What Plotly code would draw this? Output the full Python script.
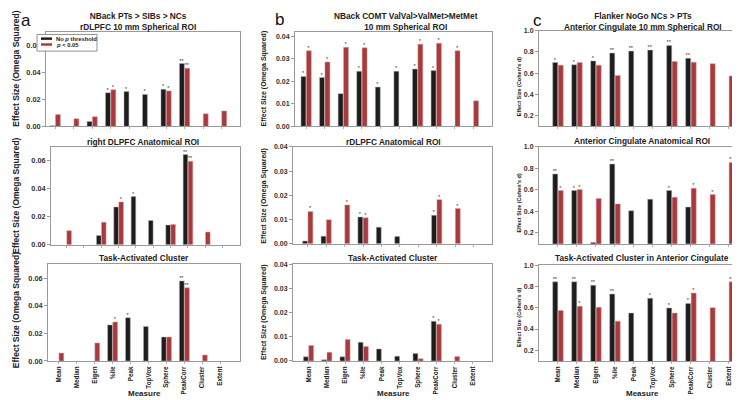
import plotly.graph_objects as go

W, H = 740, 400

cats = ["Mean", "Median", "Eigen", "%ile", "Peak", "TopVox", "Sphere", "PeakCorr", "Cluster", "Extent"]

# ---- column a : NBack PTs > SIBs > NCs ----
a1_black = [0.0005, None, 0.0036, 0.0248, 0.0257, 0.0236, 0.0274, 0.0464, None, None]
a1_black_sig = ["", "", "", "*", "*", "*", "*", "**", "", ""]
a1_red = [0.0088, 0.0057, 0.0071, 0.0271, None, None, 0.0262, 0.0429, 0.0093, 0.0114]
a1_red_sig = ["", "", "", "*", "", "", "*", "**", "", ""]

a2_black = [None, None, 0.0066, 0.0270, 0.0344, 0.0173, 0.0140, 0.0645, None, None]
a2_black_sig = ["", "", "", "", "*", "", "", "**", "", ""]
a2_red = [0.0100, None, 0.0161, 0.0306, None, None, 0.0145, 0.0598, 0.0090, None]
a2_red_sig = ["", "", "", "*", "", "", "", "**", "", ""]

a3_black = [None, None, None, 0.0261, 0.0313, 0.0249, 0.0173, 0.0579, None, None]
a3_black_sig = ["", "", "", "", "*", "", "", "**", "", ""]
a3_red = [0.0057, None, 0.0130, 0.0282, None, None, 0.0173, 0.0529, 0.0043, None]
a3_red_sig = ["", "", "", "*", "", "", "", "**", "", ""]

# ---- column b : NBack COMT ----
b1_black = [0.0221, 0.0216, 0.0145, 0.0244, 0.0174, 0.0244, 0.0254, 0.0247, None, None]
b1_black_sig = ["*", "*", "", "*", "*", "*", "*", "*", "", ""]
b1_red = [0.0335, 0.0285, 0.0350, 0.0348, None, None, 0.0364, 0.0368, 0.0335, 0.0113]
b1_red_sig = ["*", "*", "*", "*", "", "", "*", "*", "*", ""]

b2_black = [0.0011, 0.0031, None, 0.0110, 0.0068, 0.0030, None, 0.0117, None, None]
b2_black_sig = ["", "", "", "*", "", "", "", "*", "", ""]
b2_red = [0.0133, 0.0099, 0.0160, 0.0107, None, None, None, 0.0182, 0.0145, None]
b2_red_sig = ["*", "", "*", "*", "", "", "", "*", "*", ""]

b3_black = [0.0017, 0.0005, 0.0017, 0.0077, 0.0050, 0.0020, 0.0031, 0.0164, None, None]
b3_black_sig = ["", "", "", "", "", "", "", "*", "", ""]
b3_red = [0.0064, 0.0036, 0.0089, 0.0060, None, None, 0.0009, 0.0152, 0.0019, None]
b3_red_sig = ["", "", "", "", "", "", "", "*", "", ""]

# ---- column c : Flanker NoGo NCs > PTs ----
c1_black = [0.700, 0.679, 0.715, 0.789, 0.807, 0.817, 0.860, 0.740, None, None]
c1_black_sig = ["*", "*", "*", "**", "**", "**", "**", "**", "", ""]
c1_red = [0.675, 0.700, 0.675, 0.577, None, None, 0.709, 0.703, 0.688, 0.574]
c1_red_sig = ["", "", "", "", "", "", "", "", "", ""]

c2_black = [0.748, 0.594, 0.110, 0.840, 0.406, 0.514, 0.594, 0.440, None, None]
c2_black_sig = ["**", "*", "", "**", "", "", "*", "", "", ""]
c2_red = [0.594, 0.603, 0.520, 0.470, None, None, 0.532, 0.615, 0.557, 0.855]
c2_red_sig = ["*", "*", "", "", "", "", "", "*", "*", "**"]

c3_black = [0.844, 0.844, 0.811, 0.729, 0.550, 0.689, 0.598, 0.641, None, None]
c3_black_sig = ["**", "**", "**", "**", "", "*", "*", "*", "", ""]
c3_red = [0.574, 0.613, 0.604, 0.474, None, None, 0.550, 0.738, 0.601, 0.844]
c3_red_sig = ["", "*", "", "", "", "", "", "*", "", "**"]

titles = [
    "NBack PTs > SIBs > NCs<br>rDLPFC 10 mm Spherical ROI", "right DLPFC Anatomical ROI", "Task-Activated Cluster",
    "NBack COMT ValVal>ValMet>MetMet<br>10 mm Spherical ROI", "rDLPFC Anatomical ROI", "Task-Activated Cluster",
    "Flanker NoGo NCs > PTs<br>Anterior Cingulate 10 mm Spherical ROI", "Anterior Cingulate Anatomical ROI",
    "Task-Activated Cluster in Anterior Cingulate",
]
series_names = ["No <i>p</i> threshold", "<i>p</i> < 0.05"]

panels = [
    (a1_black, a1_black_sig, a1_red, a1_red_sig),
    (a2_black, a2_black_sig, a2_red, a2_red_sig),
    (a3_black, a3_black_sig, a3_red, a3_red_sig),
    (b1_black, b1_black_sig, b1_red, b1_red_sig),
    (b2_black, b2_black_sig, b2_red, b2_red_sig),
    (b3_black, b3_black_sig, b3_red, b3_red_sig),
    (c1_black, c1_black_sig, c1_red, c1_red_sig),
    (c2_black, c2_black_sig, c2_red, c2_red_sig),
    (c3_black, c3_black_sig, c3_red, c3_red_sig),
]

# pixel boxes: x0, x1, ytop, ybottom
boxes = [
    (38, 232, 20, 117), (43, 232, 138, 238), (40, 232, 258, 357),
    (287, 484, 20, 117), (285, 484, 138, 237), (285, 484, 258, 357),
    (531, 738, 19, 117), (531, 738, 138, 237), (531, 738, 259, 357),
]
xranges = [
    [-0.5, 10.0], [-0.9, 10.0], [-0.6, 10.1],
    [-0.6, 10.0], [-0.8, 10.0], [-0.85, 10.05],
    [-1.0, 9.9], [-1.0, 9.9], [-1.0, 9.9],
]
ytitle_centers = [58, 188, 305, 68, 188, 307, 76, 195, 312]

BLACK = "#1d1d1d"
RED = "#a63a3c"
FONT = "Liberation Sans, Arial, sans-serif"
TXT = "#222222"

fig = go.Figure()
layout = {}
annotations = []
for i, (blk, blk_sig, red, red_sig) in enumerate(panels):
    n = i + 1
    xa = "x" if n == 1 else f"x{n}"
    ya = "y" if n == 1 else f"y{n}"
    col = i // 3
    row = i % 3
    for vals, sig, colr, edge, nm, og in [(blk, blk_sig, BLACK, "#b5b5b5", series_names[0], "1"),
                                          (red, red_sig, RED, "#d9a5a5", series_names[1], "2")]:
        fig.add_trace(go.Bar(
            x=cats, y=vals, text=sig, textposition="outside", constraintext="none",
            textfont=dict(size=5.5, color="#333", family=FONT), cliponaxis=False,
            marker=dict(color=colr, line=dict(color=edge, width=0.5)),
            name=nm, showlegend=False, xaxis=xa, yaxis=ya, offsetgroup=og))

    x0, x1, yt, yb = boxes[i]
    if col == 0:
        yr, dt, fmt = [0, 0.07], 0.02, ".2f"
        yts, ytitle, ytx, tks = 8.5, "Effect Size (Omega Squared)", 8, 7.3
    elif col == 1:
        yr, dt, fmt = ([0, 0.042] if row == 0 else [0, 0.04]), 0.01, ".2f"
        yts, ytitle, ytx, tks = 7, "Effect Size (Omega Squared)", 256, 7
    else:
        yr, dt, fmt = [0.1, 1.0], 0.2, ".1f"
        yts, ytitle, ytx, tks = 5.5, "Effect Size (Cohen's d)", 511, 7

    xkey = "xaxis" if n == 1 else f"xaxis{n}"
    ykey = "yaxis" if n == 1 else f"yaxis{n}"
    layout[xkey] = dict(
        domain=[x0 / W, x1 / W], anchor=ya, range=xranges[i],
        type="category", categoryorder="array", categoryarray=cats,
        showline=True, mirror=True, linecolor="#9a9a9a", linewidth=1,
        ticks="outside", ticklen=2, tickcolor="#b0b0b0",
        showticklabels=(row == 2), tickangle=-90,
        tickfont=dict(size=6.3, color=TXT, family=FONT, weight="bold"),
        showgrid=False, zeroline=False,
    )
    layout[ykey] = dict(
        domain=[1 - yb / H, 1 - yt / H], anchor=xa, range=yr,
        dtick=dt, tick0=0, tickformat=fmt,
        showline=True, mirror=True, linecolor="#9a9a9a", linewidth=1,
        ticks="outside", ticklen=3, tickcolor="#9a9a9a",
        tickfont=dict(size=tks, color="#333", family=FONT, weight="bold"),
        showgrid=False, zeroline=False,
    )
    annotations.append(dict(
        text=ytitle, textangle=-90, x=ytx / W, y=1 - ytitle_centers[i] / H, xref="paper", yref="paper",
        xanchor="center", yanchor="middle", showarrow=False,
        font=dict(size=yts, color=TXT, family=FONT, weight="bold"),
    ))

title_centers = [130, 135, 136, 398, 385, 385, 635, 634, 634]
title_ys = [9.5, 133, 252, 9.5, 133, 252, 9.5, 132, 252]
for i, t in enumerate(titles):
    annotations.append(dict(
        text=t, x=title_centers[i] / W, y=1 - title_ys[i] / H, xref="paper", yref="paper",
        xanchor="center", yanchor="middle", showarrow=False,
        font=dict(size=8.3, color=TXT, family=FONT, weight="bold"),
    ))
for letter, lx, ly in [("a", 18, 9), ("b", 271, 8), ("c", 529, 9)]:
    annotations.append(dict(
        text=letter, x=lx / W, y=1 - ly / H, xref="paper", yref="paper",
        xanchor="center", yanchor="middle", showarrow=False,
        font=dict(size=17, color="#111", family=FONT),
    ))
for mx in [136, 385, 634]:
    annotations.append(dict(
        text="Measure", x=mx / W, y=1 - 390 / H, xref="paper", yref="paper",
        xanchor="center", yanchor="middle", showarrow=False, borderpad=0,
        font=dict(size=8, color=TXT, family=FONT, weight="bold"),
    ))

# legend drawn by hand (plotly's legend rows are too tall for this tiny key)
shapes = [
    dict(type="rect", xref="paper", yref="paper", x0=29 / W, x1=89 / W, y0=1 - 40 / H, y1=1 - 23 / H,
         line=dict(color="#777", width=0.8), fillcolor="white", layer="above"),
    dict(type="rect", xref="paper", yref="paper", x0=33 / W, x1=44 / W, y0=1 - 28.5 / H, y1=1 - 26 / H,
         line=dict(width=0), fillcolor=BLACK, layer="above"),
    dict(type="rect", xref="paper", yref="paper", x0=33 / W, x1=44 / W, y0=1 - 34.5 / H, y1=1 - 32 / H,
         line=dict(width=0), fillcolor=RED, layer="above"),
]
for nm, ly in zip(series_names, [27.3, 33.3]):
    annotations.append(dict(
        text=nm, x=46 / W, y=1 - ly / H, xref="paper", yref="paper",
        xanchor="left", yanchor="middle", showarrow=False,
        font=dict(size=5.8, color=TXT, family=FONT, weight="bold"),
    ))

fig.update_layout(
    width=W, height=H, margin=dict(l=0, r=0, t=0, b=0),
    paper_bgcolor="white", plot_bgcolor="white",
    barmode="group", bargap=0.42, bargroupgap=0.08,
    font=dict(family=FONT), showlegend=False,
    annotations=annotations, shapes=shapes,
    **layout,
)

fig.write_html("out.html")
